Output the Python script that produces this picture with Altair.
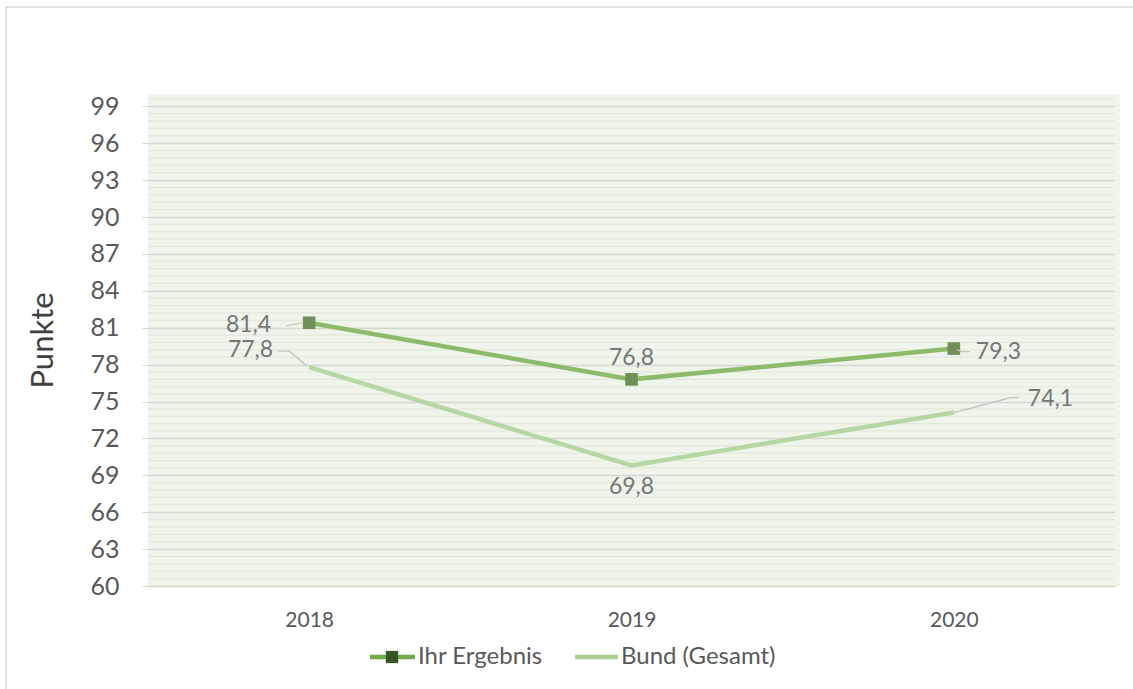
import altair as alt
import pandas as pd

years = ["2018", "2019", "2020"]
ihr = [81.4, 76.8, 79.3]
bund = [77.8, 69.8, 74.1]
major_ticks = list(range(60, 100, 3))
minor_ticks = [round(60 + 0.6 * i, 1) for i in range(67) if (i % 5) != 0]

FONT = "Lato"
W, H = 967, 492

df = pd.DataFrame({
    "year": years * 2,
    "value": ihr + bund,
    "series": ["Ihr Ergebnis"] * 3 + ["Bund (Gesamt)"] * 3,
})
df["label"] = df["value"].map(lambda v: f"{v:.1f}".replace(".", ","))
df["key"] = df["series"] + "|" + df["year"]

minor_df = pd.DataFrame({"value": minor_ticks})
one = pd.DataFrame({"a": [0]})

xs = alt.X("year:N", scale=alt.Scale(type="point", padding=0.5, domain=years),
           axis=alt.Axis(title=None, labelFontSize=21, labelColor="#595959", labelFont=FONT,
                         domain=False, ticks=False, labelPadding=23, labelAngle=0, grid=False))
ys = alt.Y("value:Q", scale=alt.Scale(domain=[60, 100], nice=False, zero=False),
           axis=alt.Axis(values=major_ticks, title="Punkte", titleFontSize=31, titleFont=FONT,
                         titleFontWeight="normal", titleColor="#404040", titleX=-89, titleY=246,
                         labelFontSize=25, labelFont=FONT, labelColor="#595959", labelPadding=23,
                         tickSize=6, tickColor="#d3d8cf", grid=True, gridColor="#d3d8cf",
                         gridWidth=1.3, domain=False))

base = alt.Chart(df)

minor = alt.Chart(minor_df).mark_rule(color="#e1e9da", strokeWidth=1.2).encode(
    y=ys, x=alt.value(0), x2=alt.value(W))

border = alt.Chart(one).mark_rect(fill=None, stroke="#d9d9d9", strokeWidth=1.5).encode(
    x=alt.value(-142), x2=alt.value(1200), y=alt.value(-87), y2=alt.value(800))
bg_ext = alt.Chart(one).mark_rect(fill="#eff5ea").encode(
    x=alt.value(W), x2=alt.value(W + 5), y=alt.value(0), y2=alt.value(H))

line_ihr = base.transform_filter(alt.datum.series == "Ihr Ergebnis").mark_line(
    color="#8dbb6b", strokeWidth=4.5).encode(x=xs, y=ys)
pts_ihr = base.transform_filter(alt.datum.series == "Ihr Ergebnis").mark_point(
    shape="square", filled=True, size=160, color="#6f9157", opacity=1).encode(x=xs, y=ys)
line_bund = base.transform_filter(alt.datum.series == "Bund (Gesamt)").mark_line(
    color="#b6d7a3", strokeWidth=4.5).encode(x=xs, y=ys)


def lbl(key, dx, dy, align):
    return base.transform_filter(alt.datum.key == key).mark_text(
        dx=dx, dy=dy, align=align, baseline="middle", fontSize=23, font=FONT, color="#767676"
    ).encode(x=xs, y=ys, text="label:N")


def leader(key, x1, y1, x2, y2):
    return base.transform_filter(alt.datum.key == key).mark_rule(
        color="#bfbfbf", strokeWidth=1.2, xOffset=x1, yOffset=y1, x2Offset=x2, y2Offset=y2
    ).encode(x=xs, y=ys, x2="year:N", y2="value:Q")


labels = [
    lbl("Ihr Ergebnis|2018", -38, 2, "right"),
    lbl("Ihr Ergebnis|2019", 0, -21, "center"),
    lbl("Ihr Ergebnis|2020", 22, 3, "left"),
    lbl("Bund (Gesamt)|2018", -36, -17, "right"),
    lbl("Bund (Gesamt)|2019", 0, 22, "center"),
    lbl("Bund (Gesamt)|2020", 74, -14, "left"),
]
leaders = [
    leader("Ihr Ergebnis|2018", -23, 3, -6, 0),
    leader("Bund (Gesamt)|2018", -31, -16, -20, -16),
    leader("Bund (Gesamt)|2018", -20, -16, -2, -1),
    leader("Ihr Ergebnis|2020", 3, 1, 8, 3),
    leader("Ihr Ergebnis|2020", 8, 3, 16, 3),
    leader("Bund (Gesamt)|2020", 0, 0, 57, -15),
    leader("Bund (Gesamt)|2020", 57, -15, 65, -15),
]

# legend
LY = 563
leg1_line = alt.Chart(one).mark_rule(color="#70ad47", strokeWidth=4.5).encode(
    x=alt.value(222), x2=alt.value(267), y=alt.value(LY))
leg1_pt = alt.Chart(one).mark_point(shape="square", filled=True, size=150, color="#375623",
                                    opacity=1).encode(x=alt.value(244), y=alt.value(LY))
leg1_txt = alt.Chart(one).mark_text(align="left", baseline="middle", fontSize=24, font=FONT,
                                    color="#595959", text="Ihr Ergebnis").encode(
    x=alt.value(270), y=alt.value(LY))
leg2_line = alt.Chart(one).mark_rule(color="#a9d08e", strokeWidth=4.5).encode(
    x=alt.value(427), x2=alt.value(470), y=alt.value(LY))
leg2_txt = alt.Chart(one).mark_text(align="left", baseline="middle", fontSize=24, font=FONT,
                                    color="#595959", text="Bund (Gesamt)").encode(
    x=alt.value(473), y=alt.value(LY))

chart = alt.layer(
    border, bg_ext, minor, line_bund, line_ihr, pts_ihr, *leaders, *labels,
    leg1_line, leg1_pt, leg1_txt, leg2_line, leg2_txt
).properties(
    width=W, height=H,
    autosize=alt.AutoSizeParams(type="none"),
    padding={"left": 148, "top": 94, "right": 18, "bottom": 103},
    background="white",
).configure_view(fill="#eff5ea", stroke=None)

chart.save("out.html", embed_options={"renderer": "svg", "actions": False})
